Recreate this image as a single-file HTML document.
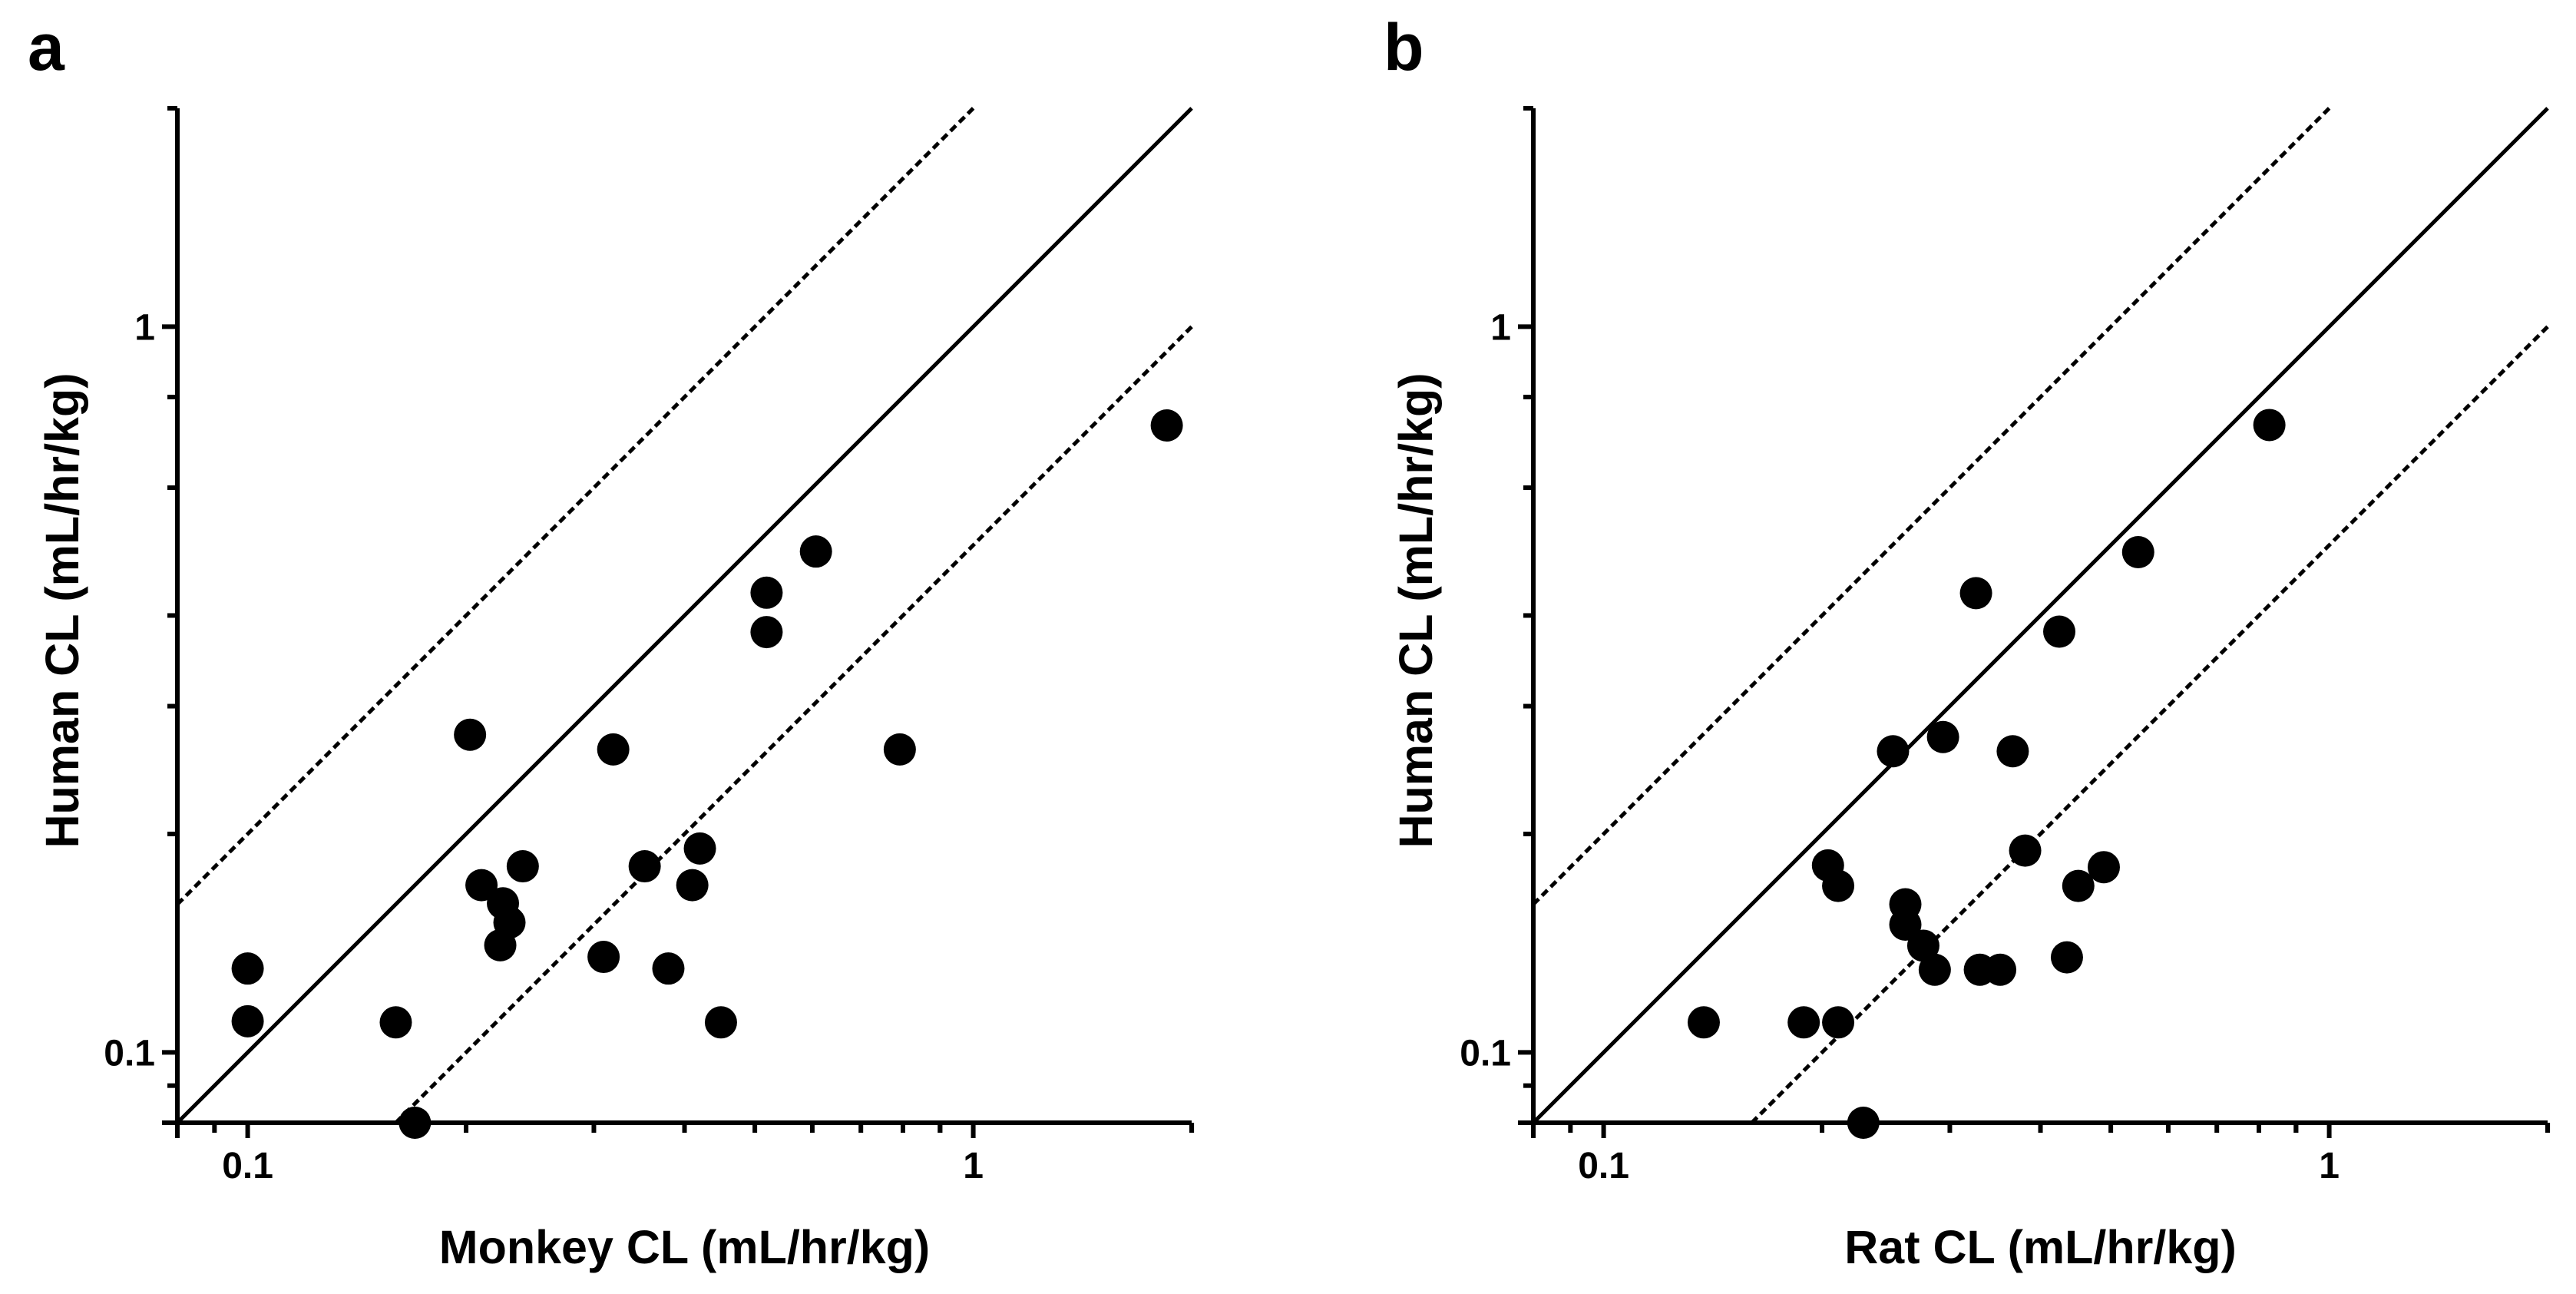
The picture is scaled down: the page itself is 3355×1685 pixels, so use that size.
<!DOCTYPE html>
<html><head><meta charset="utf-8">
<style>
html,body{margin:0;padding:0;background:#fff;}
svg{display:block;font-family:"Liberation Sans",Arial,sans-serif;}
</style></head>
<body>
<svg id="chart" width="3355" height="1685" viewBox="0 0 3355 1685" xmlns="http://www.w3.org/2000/svg"></svg>
<script>
const monkeyX = [0.1,0.1,0.160,0.170,0.2025,0.210,0.2248,0.2295,0.2229,0.2394,0.319,0.3094,0.3525,0.380,0.410,0.420,0.449,0.519,0.519,0.607,0.792,1.848];
const monkeyY = [0.1305,0.1104,0.110,0.080,0.274,0.170,0.1605,0.151,0.1405,0.1805,0.2615,0.1354,0.1805,0.1305,0.170,0.191,0.110,0.430,0.3795,0.490,0.2615,0.731];
const ratX = [0.1374,0.1887,0.2105,0.228,0.2038,0.2105,0.2605,0.2605,0.2758,0.286,0.330,0.352,0.435,0.2505,0.2936,0.3663,0.381,0.451,0.489,0.326,0.4246,0.5454,0.827];
const ratY = [0.110,0.110,0.110,0.080,0.181,0.1696,0.160,0.150,0.1403,0.130,0.130,0.130,0.1352,0.260,0.272,0.260,0.1897,0.1696,0.180,0.4294,0.380,0.489,0.732];
const majorTicks = [0.1,1];
const majorLabels = ["0.1","1"];
const xMinorTicks = [0.09,0.2,0.3,0.4,0.5,0.6,0.7,0.8,0.9];
const yMinorTicks = [0.09,0.2,0.3,0.4,0.6,0.8];
const axisMin = 0.08, axisMax = 2;
const foldLines = [0.5,1,2];

const NS="http://www.w3.org/2000/svg";
const svg=document.getElementById('chart');
const D=945, Y0=1462;
function mk(tag,attrs,parent){const e=document.createElementNS(NS,tag);for(const k in attrs)e.setAttribute(k,attrs[k]);(parent||svg).appendChild(e);return e;}

function panel(ox, xs, ys, letter, xTitle, yTitleX, name){
  const g=mk('g',{});
  
  
  const sx=v=>ox+(Math.log10(v)-Math.log10(axisMin))*D;
  const sy=v=>Y0-(Math.log10(v)-Math.log10(axisMin))*D;
  const xEnd=sx(axisMax), yTop=sy(axisMax);
  foldLines.forEach(f=>{
    let x1=axisMin, y1=axisMin*f;
    if(y1<axisMin){y1=axisMin;x1=axisMin/f;}
    let x2=axisMax, y2=axisMax*f;
    if(y2>axisMax){y2=axisMax;x2=axisMax/f;}
    const l=mk('line',{x1:sx(x1),y1:sy(y1),x2:sx(x2),y2:sy(y2),stroke:'#000','stroke-width':5},g);
    if(f!==1) l.setAttribute('stroke-dasharray','10 6');
    
    
  });
  const ya=mk('line',{x1:ox,y1:yTop,x2:ox,y2:Y0+3,stroke:'#000','stroke-width':6},g);
  
  
  const xa=mk('line',{x1:ox-20,y1:Y0,x2:xEnd,y2:Y0,stroke:'#000','stroke-width':6},g);
  
  
  mk('line',{x1:ox,y1:Y0,x2:ox,y2:Y0+20,stroke:'#000','stroke-width':6},g);
  xMinorTicks.forEach(v=>{mk('line',{x1:sx(v),y1:Y0,x2:sx(v),y2:Y0+13,stroke:'#000','stroke-width':6},g);});
  xMinorTicks.map(v=>v*10).forEach(v=>{if(v<=axisMax)mk('line',{x1:sx(v),y1:Y0,x2:sx(v),y2:Y0+13,stroke:'#000','stroke-width':6},g);});
  mk('line',{x1:xEnd,y1:Y0,x2:xEnd,y2:Y0+13,stroke:'#000','stroke-width':6},g);
  majorTicks.forEach((v,i)=>{
    mk('line',{x1:sx(v),y1:Y0,x2:sx(v),y2:Y0+20,stroke:'#000','stroke-width':6},g);
    const t=mk('text',{x:sx(v),y:1534,'text-anchor':'middle','font-size':48,'font-weight':'bold'},g);
    t.textContent=majorLabels[i];
    
    
  });
  yMinorTicks.forEach(v=>{mk('line',{x1:ox-13,y1:sy(v),x2:ox,y2:sy(v),stroke:'#000','stroke-width':6},g);});
  mk('line',{x1:ox-13,y1:sy(2),x2:ox,y2:sy(2),stroke:'#000','stroke-width':6},g);
  majorTicks.forEach((v,i)=>{
    mk('line',{x1:ox-20,y1:sy(v),x2:ox,y2:sy(v),stroke:'#000','stroke-width':6},g);
    const t=mk('text',{x:ox-29,y:sy(v)+17,'text-anchor':'end','font-size':48,'font-weight':'bold'},g);
    t.textContent=majorLabels[i];
    
    
  });
  xs.forEach((v,i)=>{
    const c=mk('circle',{cx:sx(v),cy:sy(ys[i]),r:21,fill:'#000'},g);
    
    
  });
  const xt=mk('text',{x:(ox+xEnd)/2,y:1645,'text-anchor':'middle','font-size':61,'font-weight':'bold'},g);
  xt.textContent=xTitle;
  
  
  const yt=mk('text',{x:0,y:0,'text-anchor':'middle','font-size':61,'font-weight':'bold',transform:`translate(${yTitleX+21},795) rotate(-90)`},g);
  yt.textContent='Human CL (mL/hr/kg)';
  
  
  const pl=mk('text',{x:ox-195,y:91,'font-size':86,'font-weight':'bold'},g);
  pl.textContent=letter;
  
  
}
panel(231, monkeyX, monkeyY, 'a', 'Monkey CL (mL/hr/kg)', 81, 'panel-a-monkey');
panel(1997, ratX, ratY, 'b', 'Rat CL (mL/hr/kg)', 1844, 'panel-b-rat');
</script>
</body></html>
